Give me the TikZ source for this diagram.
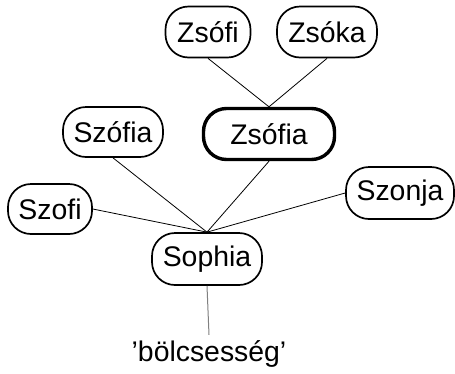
\documentclass[tikz,border=0pt]{standalone}
\usepackage{fontspec}
\setmainfont{Liberation Sans}
\begin{document}
\begin{tikzpicture}[x=1bp,y=-1bp,
  namebox/.style={draw, line width=1.7bp, rounded corners=23bp, minimum height=51bp,
    inner sep=0pt, font=\fontsize{28.5}{32}\selectfont},
  mainbox/.style={namebox, line width=3.4bp},
  link/.style={line width=0.8bp},
  rootlink/.style={line width=1bp, gray}]
\useasboundingbox (0,0) rectangle (455,373);
\node[namebox, minimum width=85bp] (zsofi) at (208,32) {Zsófi};
\node[namebox, minimum width=100bp] (zsoka) at (327,32) {Zsóka};
\node[namebox, minimum width=100bp, minimum height=50bp] (szofia) at (113,132) {Szófia};
\node[mainbox, minimum width=131bp, minimum height=51bp] (zsofia) at (269,134) {Zsófia};
\node[namebox, minimum width=84bp, minimum height=50bp] (szofi) at (50,209) {Szofi};
\node[namebox, minimum width=108bp, minimum height=52bp] (szonja) at (400,193) {Szonja};
\node[namebox, minimum width=110bp, minimum height=52bp] (sophia) at (207,259) {Sophia};
\node[font=\fontsize{28.5}{32}\selectfont, inner sep=5bp, anchor=base] (bol) at (209,361) {'bölcsesség'};
\draw[link] (zsofi.south) -- (zsofia.north);
\draw[link] (zsoka.south) -- (zsofia.north);
\draw[link] (zsofia.south) -- (sophia.north);
\draw[link] (szofia.south) -- (sophia.north);
\draw[link] (szofi.east) -- (sophia.north);
\draw[link] (szonja.west) -- (sophia.north);
\draw[rootlink] (sophia.south) -- (bol.north);
\end{tikzpicture}
\end{document}
